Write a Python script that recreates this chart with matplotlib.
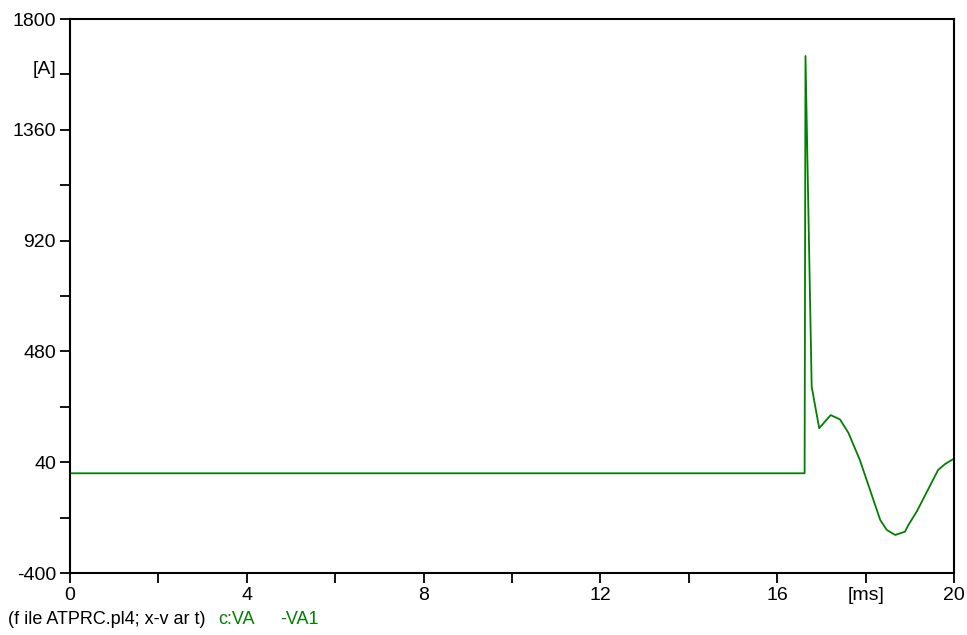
import matplotlib.pyplot as plt
import numpy as np

plt.rcParams['font.family'] = ['Liberation Sans', 'DejaVu Sans']

# current trace c:VA -VA1 (time in ms, current in A)
t_ms = [0.0, 16.62, 16.64, 16.78, 16.95, 17.21, 17.42, 17.61, 17.87, 18.33,
        18.48, 18.67, 18.89, 18.97, 19.16, 19.64, 19.80, 19.98, 20.0]
i_a = [-4, -4, 1653, 340, 175, 227, 210, 157, 49, -189,
       -229, -249, -236, -209, -155, 9, 33, 52, 54]

x_major = [0, 4, 8, 12, 16, 20]
x_minor = [2, 6, 10, 14, 18]
y_major = [-400, 40, 480, 920, 1360, 1800]
y_minor = [-180, 260, 700, 1140, 1580]

fig = plt.figure(figsize=(9.67, 6.35), dpi=100)
ax = fig.add_axes([70 / 967, 62 / 635, 884 / 967, 554 / 635])

ax.plot(t_ms, i_a, color='#008000', lw=1.3)

ax.set_xlim(0, 20)
ax.set_ylim(-400, 1800)
ax.set_xticks(x_major)
ax.set_xticks(x_minor, minor=True)
ax.set_yticks(y_major)
ax.set_yticks(y_minor, minor=True)
ax.set_xticklabels([str(v) for v in x_major])
ax.set_yticklabels([str(v) for v in y_major])
ax.set_xticklabels(['' if v != 18 else '[ms]' for v in x_minor], minor=True)
ax.set_yticklabels(['' if v != 1580 else '[A]' for v in y_minor], minor=True)

ax.tick_params(which='both', direction='out', length=7, width=1.3,
               labelsize=14, pad=3, color='black')
for lab in ax.get_yticklabels(minor=True):
    lab.set_va('baseline')
for s in ax.spines.values():
    s.set_linewidth(1.5)

fig.text(8 / 967, 1 - 620 / 635, '(f ile ATPRC.pl4; x-v ar t)', fontsize=13,
         va='center', ha='left')
fig.text(218 / 967, 1 - 620 / 635, 'c:VA', fontsize=13, color='#008000',
         va='center', ha='left')
fig.text(280 / 967, 1 - 620 / 635, '-VA1', fontsize=13, color='#008000',
         va='center', ha='left')

fig.savefig('out.png', dpi=100)
